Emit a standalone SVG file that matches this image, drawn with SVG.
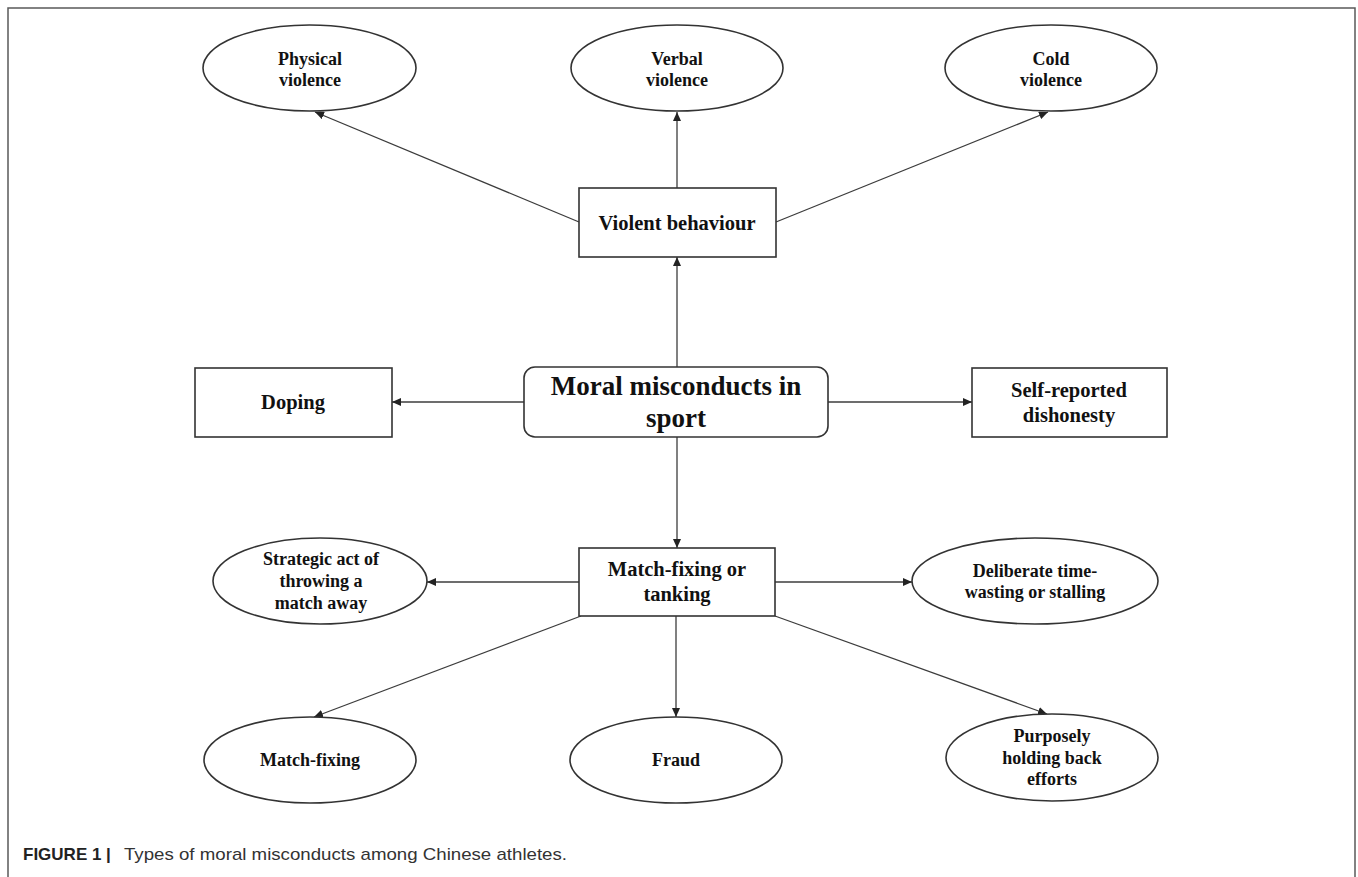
<svg xmlns="http://www.w3.org/2000/svg" width="1358" height="877" viewBox="0 0 1358 877">
<defs>
<style>
.bg{fill:#ffffff}
.frame{fill:none;stroke:#5a5a5a;stroke-width:1.5}
.node{fill:#ffffff;stroke:#333333;stroke-width:1.6}
.lbl{font-family:"Liberation Serif","Times New Roman",serif;font-weight:bold;fill:#111111;text-anchor:middle}
.e{font-size:18px}
.b{font-size:20.5px}
.m{font-size:27px}
.edge{fill:none;stroke:#3c3c3c;stroke-width:1.3;marker-end:url(#arr)}
.capb{font-family:"Liberation Sans",Arial,sans-serif;font-weight:bold;font-size:17px;fill:#222222}
.capr{font-family:"Liberation Sans",Arial,sans-serif;font-size:17px;fill:#333333}
</style>
<marker id="arr" markerUnits="userSpaceOnUse" markerWidth="10" markerHeight="8" refX="9" refY="4" orient="auto">
<path d="M0,0 L9,4 L0,8 z" fill="#222222"/>
</marker>
</defs>
<rect class="bg" x="0" y="0" width="1358" height="877"/>
<path class="frame" d="M8,877 L8,8 L1355,8 L1355,877"/>

<g id="connectors">
<line class="edge" x1="579" y1="222" x2="315" y2="112"/>
<line class="edge" x1="677" y1="188" x2="677" y2="112"/>
<line class="edge" x1="776" y1="222" x2="1048" y2="112"/>
<line class="edge" x1="677" y1="367" x2="677" y2="257"/>
<line class="edge" x1="524" y1="402" x2="392" y2="402"/>
<line class="edge" x1="828" y1="402" x2="972" y2="402"/>
<line class="edge" x1="677" y1="437" x2="677" y2="548"/>
<line class="edge" x1="579" y1="582" x2="427" y2="582"/>
<line class="edge" x1="775" y1="582" x2="912" y2="582"/>
<line class="edge" x1="581" y1="616" x2="314" y2="717"/>
<line class="edge" x1="676" y1="616" x2="676" y2="717"/>
<line class="edge" x1="775" y1="616" x2="1047" y2="714"/>
</g>

<g id="physical-violence">
<ellipse class="node" cx="309.5" cy="68" rx="106.5" ry="43"/>
<text class="lbl e" x="310" y="65">Physical</text>
<text class="lbl e" x="310" y="86">violence</text>
</g>
<g id="verbal-violence">
<ellipse class="node" cx="677" cy="68" rx="106" ry="43"/>
<text class="lbl e" x="677" y="65">Verbal</text>
<text class="lbl e" x="677" y="86">violence</text>
</g>
<g id="cold-violence">
<ellipse class="node" cx="1051" cy="68" rx="106" ry="43"/>
<text class="lbl e" x="1051" y="65">Cold</text>
<text class="lbl e" x="1051" y="86">violence</text>
</g>

<g id="violent-behaviour">
<rect class="node" x="579" y="188" width="197" height="69"/>
<text class="lbl b" x="677" y="230">Violent behaviour</text>
</g>

<g id="moral-misconducts">
<rect class="node" x="524" y="367" width="304" height="70" rx="11" ry="11"/>
<text class="lbl m" x="676" y="395">Moral misconducts in</text>
<text class="lbl m" x="676" y="427">sport</text>
</g>

<g id="doping">
<rect class="node" x="195" y="368" width="197" height="69"/>
<text class="lbl b" x="293" y="409">Doping</text>
</g>

<g id="self-reported-dishonesty">
<rect class="node" x="972" y="368" width="195" height="69"/>
<text class="lbl b" x="1069" y="397">Self-reported</text>
<text class="lbl b" x="1069" y="422">dishonesty</text>
</g>

<g id="match-fixing-or-tanking">
<rect class="node" x="579" y="548" width="196" height="68"/>
<text class="lbl b" x="677" y="576">Match-fixing or</text>
<text class="lbl b" x="677" y="601">tanking</text>
</g>

<g id="strategic-act">
<ellipse class="node" cx="320" cy="581" rx="107" ry="43"/>
<text class="lbl e" x="321" y="565">Strategic act of</text>
<text class="lbl e" x="321" y="587">throwing a</text>
<text class="lbl e" x="321" y="609">match away</text>
</g>

<g id="deliberate-time-wasting">
<ellipse class="node" cx="1035" cy="581" rx="123" ry="43"/>
<text class="lbl e" x="1035" y="577">Deliberate time-</text>
<text class="lbl e" x="1035" y="598">wasting or stalling</text>
</g>

<g id="match-fixing">
<ellipse class="node" cx="310" cy="760" rx="106" ry="43"/>
<text class="lbl e" x="310" y="766">Match-fixing</text>
</g>

<g id="fraud">
<ellipse class="node" cx="676" cy="760" rx="106" ry="43"/>
<text class="lbl e" x="676" y="766">Fraud</text>
</g>

<g id="purposely-holding-back">
<ellipse class="node" cx="1052" cy="757.5" rx="106" ry="43.5"/>
<text class="lbl e" x="1052" y="742">Purposely</text>
<text class="lbl e" x="1052" y="764">holding back</text>
<text class="lbl e" x="1052" y="785">efforts</text>
</g>

<g id="caption">
<text class="capb" x="23" y="860">FIGURE 1 |</text>
<text class="capr" x="124" y="860" textLength="443" lengthAdjust="spacingAndGlyphs">Types of moral misconducts among Chinese athletes.</text>
</g>
</svg>
